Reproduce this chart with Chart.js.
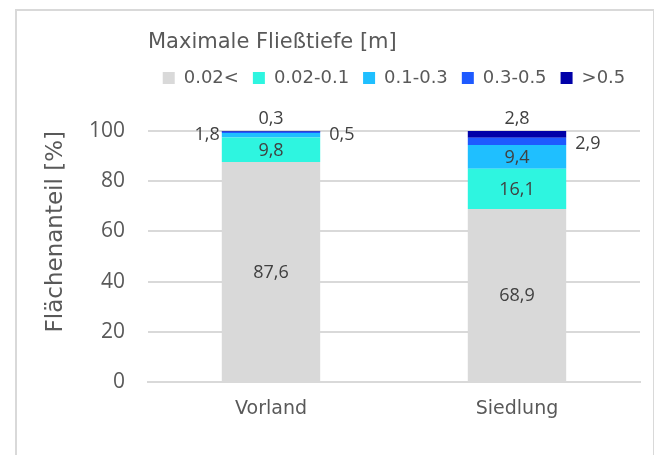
<!DOCTYPE html>
<html>
<head>
<meta charset="utf-8">
<script src="https://cdn.jsdelivr.net/npm/chart.js@4"></script>
<style>
  html, body { margin: 0; padding: 0; background: #fff; }
  #wrap { position: relative; width: 654px; height: 455px; overflow: hidden; }
  #frame {
    position: absolute; left: 15px; top: 9px; width: 636px; height: 470px;
    border-left: 2px solid #d9d9d9; border-top: 2px solid #d9d9d9; border-right: 1px solid #d9d9d9;
  }
  canvas { position: absolute; left: 0; top: 0; }
</style>
</head>
<body>
<div id="wrap">
  <div id="frame"></div>
  <canvas id="c" width="654" height="455"></canvas>
</div>
<script>
/* Maximale Fließtiefe – Flächenanteil je Gebiet */

const CATEGORIES = ["Vorland", "Siedlung"];
const CLASSES = ["0.02<", "0.02-0.1", "0.1-0.3", "0.3-0.5", ">0.5"];
const V_002 = [87.6, 68.9];
const V_002_01 = [9.8, 16.1];
const V_01_03 = [1.8, 9.4];
const V_03_05 = [0.5, 2.9];
const V_05 = [0.3, 2.8];
const Y_TICKS = [0, 20, 40, 60, 80, 100];

const COLORS = ["#d9d9d9", "#2ef5e0", "#1fbfff", "#1e5aff", "#0000a8"];
// wo kleine Werte beschriftet werden (nach Klasse)
const SMALL_SIDE = ["center", "center", "left", "right", "top"];
const TEXT = "#595959";
const LABEL = "#404040";
const GRID = "#d9d9d9";

const SERIES = [V_002, V_002_01, V_01_03, V_03_05, V_05];

/* ── Werte-Beschriftung ── */
const valueLabels = {
  id: "valueLabels",
  afterDatasetsDraw(chart) {
    const ctx = chart.ctx;
    ctx.save();
    ctx.font = "18px 'Open Sans'";
    ctx.fillStyle = LABEL;
    chart.data.datasets.forEach((ds, di) => {
      chart.getDatasetMeta(di).data.forEach((bar, i) => {
        const v = ds.data[i];
        const txt = String(v).replace(".", ",");
        const top = Math.min(bar.y, bar.base), bot = Math.max(bar.y, bar.base);
        const mid = (top + bot) / 2;
        const half = bar.width / 2;
        let side = bot - top > 20 ? "center" : SMALL_SIDE[di];
        ctx.textBaseline = "middle";
        if (side === "center") {
          ctx.textAlign = "center";
          ctx.fillText(txt, bar.x, mid + 1);
        } else if (side === "left") {
          ctx.textAlign = "right";
          ctx.fillText(txt, bar.x - half - 2, mid);
        } else if (side === "right") {
          ctx.textAlign = "left";
          ctx.fillText(txt, bar.x + half + 9, mid + 2);
        } else {
          ctx.textAlign = "center";
          ctx.fillText(txt, bar.x, top - 12);
        }
      });
    });
    ctx.restore();
  },
};

new Chart(document.getElementById("c"), {
  type: "bar",
  data: {
    labels: CATEGORIES,
    datasets: SERIES.map((d, k) => ({
      label: CLASSES[k],
      data: d,
      backgroundColor: COLORS[k],
      borderWidth: 0,
      barPercentage: 0.4,
      categoryPercentage: 1,
    })),
  },
  options: {
    responsive: false,
    animation: false,
    layout: { padding: { left: 42, right: 14, top: 32, bottom: 0 } },
    plugins: {
      title: {
        display: true,
        text: "Maximale Fließtiefe [m]",
        align: "start",
        fullSize: false,
        color: TEXT,
        font: { family: "DejaVu Sans", size: 21, weight: "normal", lineHeight: 1 },
        padding: { top: 0, bottom: 2 },
      },
      legend: {
        display: true,
        position: "top",
        fullSize: false,
        align: "center",
        labels: {
          color: TEXT,
          font: { family: "DejaVu Sans", size: 18 },
          boxWidth: 12,
          boxHeight: 12,
          padding: 14,
        },
      },
      subtitle: {
        display: true,
        text: " ",
        weight: 500,
        fullSize: false,
        font: { size: 10 },
        padding: { top: 0, bottom: 22 },
      },
      tooltip: { enabled: false },
    },
    scales: {
      x: {
        stacked: true,
        grid: { display: false, drawTicks: false },
        border: { display: true, color: GRID, width: 2 },
        ticks: { color: TEXT, font: { family: "DejaVu Sans", size: 19 }, padding: 16 },
        afterFit: (s) => { s.height = 73; },
      },
      y: {
        stacked: true,
        min: 0,
        max: 100,
        afterBuildTicks: (s) => { s.ticks = Y_TICKS.map((v) => ({ value: v })); },
        grid: { color: GRID, lineWidth: 2, drawTicks: false },
        border: { display: false },
        ticks: { color: TEXT, font: { family: "Open Sans", size: 21 }, padding: 23 },
        title: {
          display: true,
          text: "Flächenanteil [%]",
          align: "end",
          color: TEXT,
          font: { family: "DejaVu Sans", size: 23 },
          padding: { top: 0, bottom: 0 },
        },
        afterFit: (s) => { s.width = 106; },
      },
    },
  },
  plugins: [valueLabels],
});
</script>
</body>
</html>
